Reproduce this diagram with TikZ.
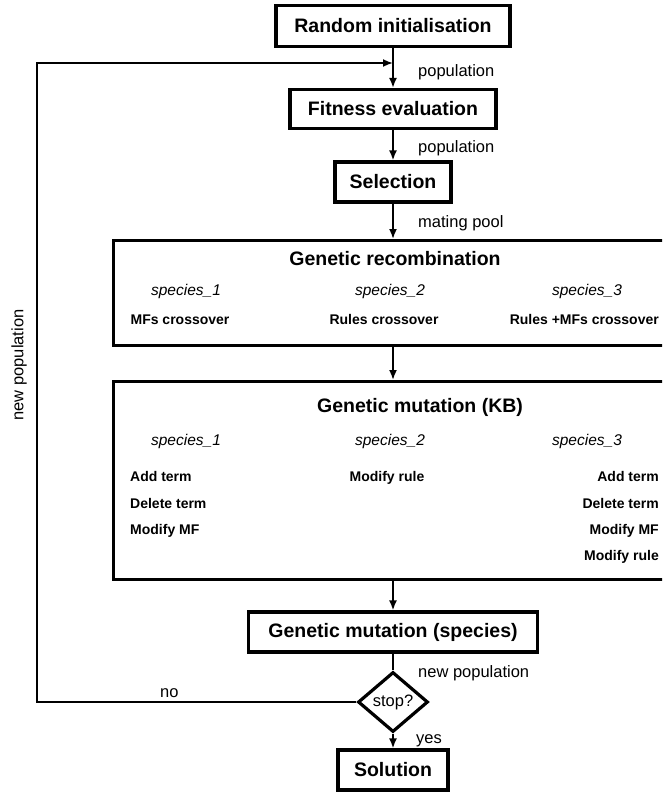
\documentclass[tikz,border=0pt]{standalone}
\usepackage{fontspec}
\setmainfont{Liberation Sans}
\usetikzlibrary{arrows.meta,shapes.geometric}
\begin{document}
\begin{tikzpicture}[x=1pt,y=-1pt,
  box/.style={draw, line width=3.2pt, inner sep=0pt, font=\bfseries\fontsize{19.5}{22}\selectfont},
  bigbox/.style={draw, line width=3.2pt, inner sep=0pt, anchor=north west},
  lbl/.style={inner sep=0pt, anchor=west, text height=12pt, text depth=4pt, font=\fontsize{16.5}{19}\selectfont},
  ttl/.style={inner sep=0pt, text height=14pt, text depth=4pt, font=\bfseries\fontsize{19.5}{22}\selectfont},
  spc/.style={inner sep=0pt, text height=11pt, text depth=4pt, font=\itshape\fontsize{15.5}{18}\selectfont},
  itm/.style={inner sep=0pt, text height=10pt, text depth=3pt, font=\bfseries\fontsize{14}{16}\selectfont},
  flow/.style={line width=1.8pt, -{Latex[length=10pt,width=8pt]}},
  line/.style={line width=1.8pt}]
\useasboundingbox (0,0) rectangle (662,792);
\clip (0,0) rectangle (662,792);

% main boxes
\node[box, minimum width=234pt, minimum height=41pt] (rand) at (393,26) {Random initialisation};
\node[box, minimum width=206pt, minimum height=39pt] (fit) at (393,109) {Fitness evaluation};
\node[box, minimum width=116pt, minimum height=40pt] (sel) at (393,182) {Selection};
\node[bigbox, minimum width=570pt, minimum height=105pt] (rec) at (112,239) {};
\node[bigbox, minimum width=570pt, minimum height=198pt] (kb) at (112,380) {};
\node[box, minimum width=289pt, minimum height=40pt] (spec) at (393,632) {Genetic mutation (species)};
\node[draw, diamond, line width=3.2pt, inner sep=0pt, aspect=1.17, minimum width=70pt, minimum height=60pt,
      font=\fontsize{16.5}{19}\selectfont] (stop) at (393,702) {stop?};
\node[box, minimum width=110pt, minimum height=40pt] (sol) at (393,770) {Solution};

% recombination contents
\node[ttl] (rect) at (395,260) {Genetic recombination};
\node[spc] (rs1) at (186,292) {species\_1};
\node[spc] (rs2) at (390,292) {species\_2};
\node[spc] (rs3) at (587,292) {species\_3};
\node[itm] (rc1) at (180,321) {MFs crossover};
\node[itm] (rc2) at (384,321) {Rules crossover};
\node[itm, anchor=east] (rc3) at (659,321) {Rules +MFs crossover};

% mutation KB contents
\node[ttl] (kbt) at (420,407) {Genetic mutation (KB)};
\node[spc] (ks1) at (186,442) {species\_1};
\node[spc] (ks2) at (390,442) {species\_2};
\node[spc] (ks3) at (587,442) {species\_3};
\node[itm, anchor=west] (a1) at (130,478) {Add term};
\node[itm, anchor=west] (a2) at (130,505) {Delete term};
\node[itm, anchor=west] (a3) at (130,531) {Modify MF};
\node[itm] (b1) at (387,478) {Modify rule};
\node[itm, anchor=east] (c1) at (659,478) {Add term};
\node[itm, anchor=east] (c2) at (659,505) {Delete term};
\node[itm, anchor=east] (c3) at (659,531) {Modify MF};
\node[itm, anchor=east] (c4) at (659,557) {Modify rule};

% connector labels
\node[lbl] (l1) at (418,72) {population};
\node[lbl] (l2) at (418,148) {population};
\node[lbl] (l3) at (418,223) {mating pool};
\node[lbl] (l4) at (418,673) {new population};
\node[lbl] (l5) at (160,693) {no};
\node[lbl] (l6) at (416,739) {yes};
\node[inner sep=0pt, rotate=90, font=\fontsize{16.5}{19}\selectfont] (l7) at (19,365) {new population};

% connectors
\coordinate (join) at (rand.south |- 0,63);
\coordinate (cl) at (37,702);
\coordinate (ct) at (37,63);
\draw[flow] (rand.south) -- (fit.north);
\draw[flow] (fit.south) -- (sel.north);
\draw[flow] (sel.south) -- (sel.south |- rec.north);
\draw[flow] (sel.south |- rec.south) -- (sel.south |- kb.north);
\draw[flow] (sel.south |- kb.south) -- (spec.north);
\draw[line] (spec.south) -- (stop.north);
\draw[flow] (stop.south) -- (sol.north);
\draw[flow] (stop.west) -- (cl) -- (ct) -- (join);
\end{tikzpicture}
\end{document}
